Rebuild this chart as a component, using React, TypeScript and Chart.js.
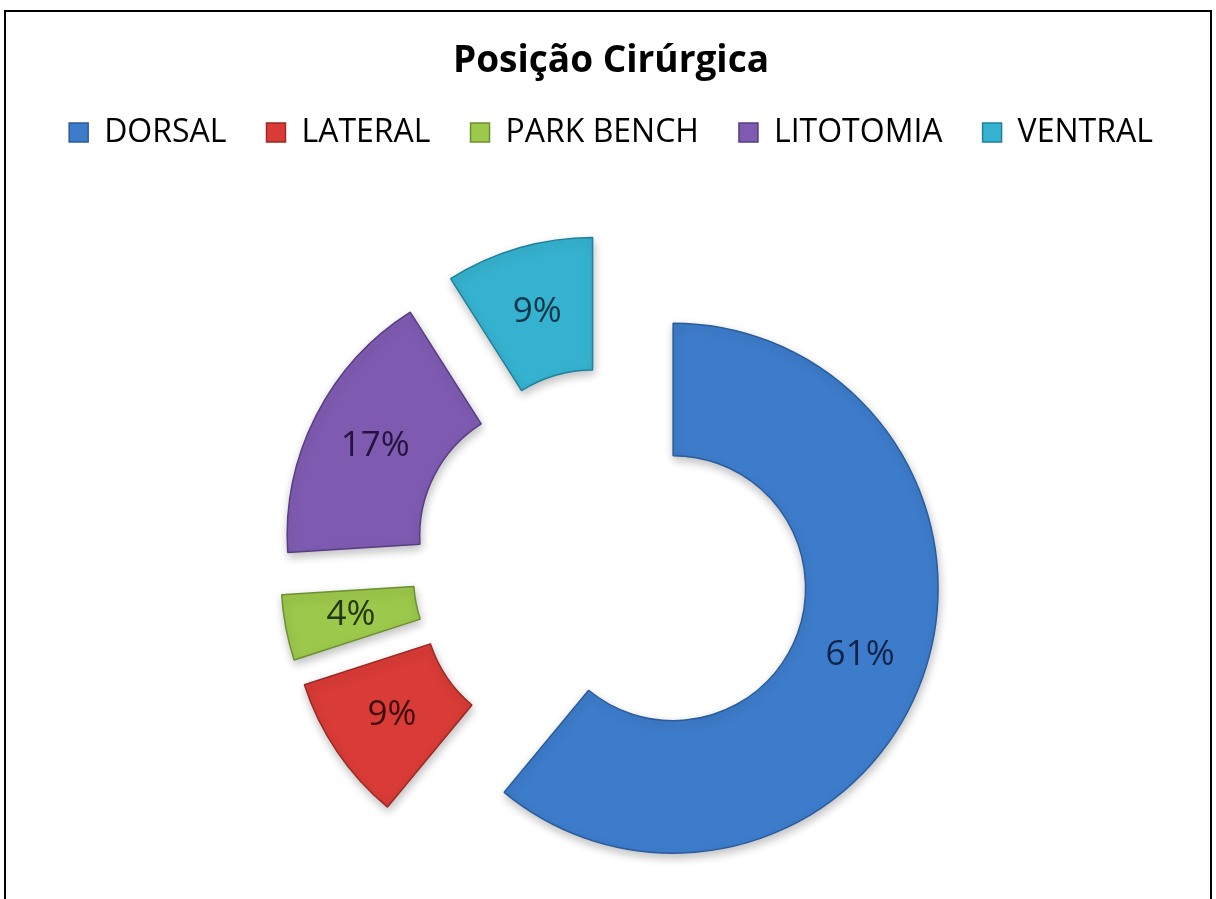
import React, { useEffect, useRef } from 'react';
import { Chart, registerables } from 'chart.js';

Chart.register(...registerables);

// ---- data ----
const TITLE = 'Posição Cirúrgica';
const categories = ['DORSAL', 'LATERAL', 'PARK BENCH', 'LITOTOMIA', 'VENTRAL'];
const percentages = [61, 9, 4, 17, 9];

// ---- style ----
const sliceColors = ['#3D7CCB', '#D93B36', '#9CC84B', '#7E5BB1', '#35B2CF'];
const sliceBorders = ['#2B5C9C', '#9A2925', '#6D8F30', '#573D82', '#21809A'];
const labelColors = ['#10234A', '#3F0D0D', '#24360C', '#24143F', '#10364A'];
const FONT = "'Open Sans', 'DejaVu Sans', sans-serif";
const EXPLODE = 66; // explosion distance of every slice (px)
const RADIUS = 265;
const CANVAS_W = 1216;
const CANVAS_H = 973;

const explodePlugin = {
  id: 'explodeSlices',
  beforeDatasetDraw(chart: any, args: any) {
    const ctx = chart.ctx;
    args.meta.data.forEach((arc: any) => {
      const mid = (arc.startAngle + arc.endAngle) / 2;
      ctx.save();
      ctx.shadowColor = 'rgba(0,0,0,0.25)';
      ctx.shadowBlur = 10;
      ctx.shadowOffsetX = 1;
      ctx.shadowOffsetY = 4;
      ctx.translate(Math.cos(mid) * EXPLODE, Math.sin(mid) * EXPLODE);
      arc.draw(ctx);
      ctx.restore();
    });
    return false;
  },
  afterDatasetsDraw(chart: any) {
    const ctx = chart.ctx;
    const meta = chart.getDatasetMeta(0);
    meta.data.forEach((arc: any, i: number) => {
      const mid = (arc.startAngle + arc.endAngle) / 2;
      const p = arc.getCenterPoint();
      ctx.save();
      ctx.font = `35px ${FONT}`;
      ctx.fillStyle = labelColors[i];
      ctx.textAlign = 'center';
      ctx.textBaseline = 'middle';
      ctx.fillText(`${percentages[i]}%`, p.x + Math.cos(mid) * EXPLODE, p.y + Math.sin(mid) * EXPLODE);
      ctx.restore();
    });
  },
};

export default function App() {
  const ref = useRef<HTMLCanvasElement>(null);

  useEffect(() => {
    const chart = new Chart(ref.current as HTMLCanvasElement, {
      type: 'doughnut',
      data: {
        labels: categories,
        datasets: [
          {
            data: percentages,
            backgroundColor: sliceColors,
            borderColor: sliceBorders,
            borderWidth: 1.5,
          },
        ],
      },
      options: {
        responsive: false,
        maintainAspectRatio: false,
        animation: false,
        events: [],
        radius: RADIUS,
        cutout: '50%',
        layout: { padding: { left: 6, right: 0, top: 0, bottom: 0 } },
        plugins: {
          title: {
            display: true,
            text: TITLE,
            color: '#000',
            font: { family: FONT, size: 37, weight: 'bold', lineHeight: 0.8 },
            padding: { top: 47, bottom: 0 },
          },
          legend: {
            display: true,
            position: 'top',
            labels: {
              color: '#000',
              font: { family: FONT, size: 32 },
              boxWidth: 19,
              boxHeight: 19,
              padding: 40,
            },
          },
          tooltip: { enabled: false },
        },
      } as any,
      plugins: [explodePlugin],
    });
    return () => chart.destroy();
  }, []);

  return (
    <div
      style={{
        position: 'fixed',
        left: 0,
        top: 0,
        width: 1216,
        height: 899,
        overflow: 'hidden',
        background: '#fff',
      }}
    >
      <canvas
        ref={ref}
        width={CANVAS_W}
        height={CANVAS_H}
        style={{ position: 'absolute', left: 0, top: 0, width: CANVAS_W, height: CANVAS_H }}
      />
      <div
        style={{
          position: 'absolute',
          left: 4,
          top: 10,
          width: 1208,
          height: 1000,
          border: '2px solid #000',
          boxSizing: 'border-box',
          pointerEvents: 'none',
        }}
      />
    </div>
  );
}
